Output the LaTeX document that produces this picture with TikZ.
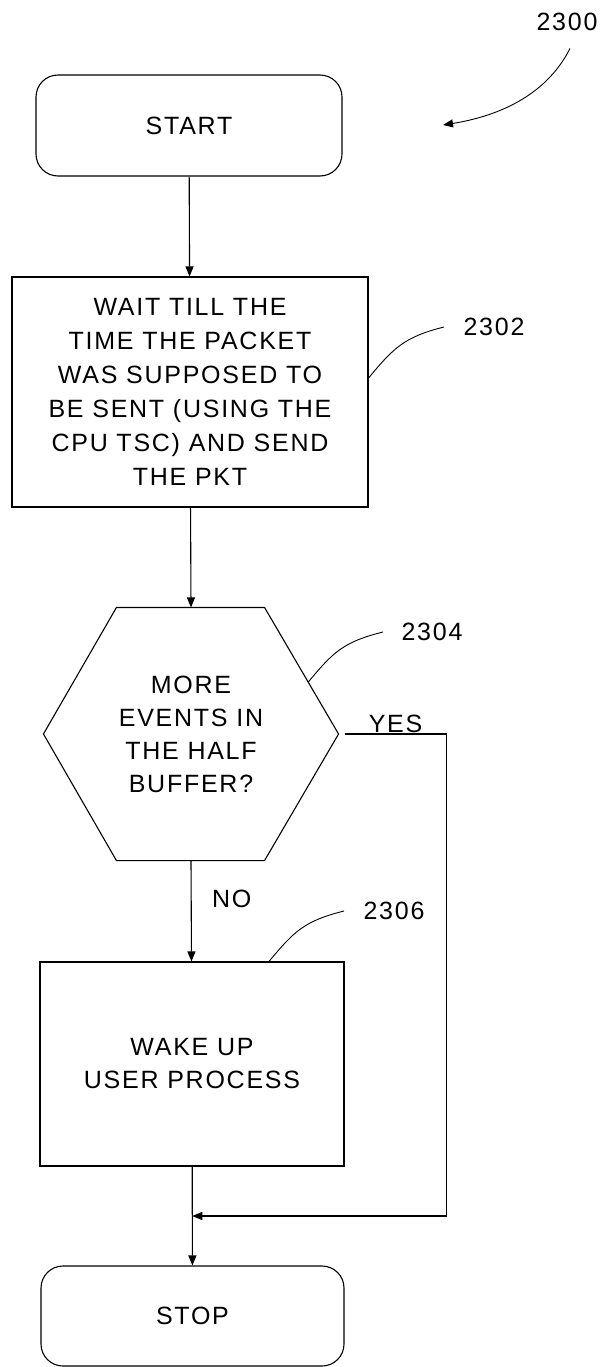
\documentclass[tikz,border=0pt]{standalone}
\usepackage{fontspec}
\setmainfont{Liberation Sans}[LetterSpace=7]
\usetikzlibrary{arrows.meta,positioning,calc}

\begin{document}
\begin{tikzpicture}[x=1pt, y=-1pt, line width=1.1pt, >={Triangle[length=10pt,width=8pt]},
    font=\fontsize{25}{34}\selectfont,
    term/.style={draw, rounded corners=22pt, minimum width=306pt, minimum height=101pt, align=center},
    proc/.style={draw, minimum width=356pt, minimum height=230pt, align=center},
    ref/.style={inner sep=0pt},
    lead/.style={line width=0.9pt}]
  \useasboundingbox (0,0) rectangle (603,1367);
  % ---------------- flow ----------------
  \node[term] (start) at (189,125.5) {START};
  \node[proc] (wait) at (190,392)
       {WAIT TILL THE\\ TIME THE PACKET\\ WAS SUPPOSED TO\\ BE SENT (USING THE\\ CPU TSC) AND SEND\\ THE PKT};
  \node[minimum width=294pt, minimum height=252pt, inner sep=0pt, align=center, font=\fontsize{25}{33}\selectfont] (dec) at (191,734)
       {MORE\\ EVENTS IN\\ THE HALF\\ BUFFER?};
  \coordinate (hnw) at ($(dec.north west)+(73,0)$);
  \coordinate (hne) at ($(dec.north east)+(-74,0)$);
  \coordinate (hse) at ($(dec.south east)+(-74,0)$);
  \coordinate (hsw) at ($(dec.south west)+(73,0)$);
  \draw (dec.west) -- (hnw) -- (hne) -- (dec.east) -- (hse) -- (hsw) -- cycle;
  \node[proc, minimum width=304pt, minimum height=204pt, font=\fontsize{25}{33}\selectfont] (wake) at (192,1064)
       {WAKE UP\\ USER PROCESS};
  \node[term, minimum width=303pt, minimum height=100pt] (stop) at (192.5,1316) {STOP};
  \draw[->] (start) -- (wait);
  \draw[->] (wait) -- (dec.north);
  \draw[->] (dec.south) -- node[pos=0.38, right=17pt] {NO} (wake);
  \draw[->] (wake) -- (stop);
  \coordinate (join) at ($(wake.south)!0.5!(stop.north)$);
  \draw[->] ([xshift=6pt]dec.east) -- node[above, inner sep=1pt] {YES} ++(102,0) |- (join);
  % ---------------- reference numerals ----------------
  \node[ref] (n2300) at (567,22) {2300};
  \coordinate (tip2300) at (443,125);
  \draw[->, lead] ([xshift=3pt,yshift=-17pt]n2300.south) .. controls +(-25,50) and +(50,-8) .. (tip2300);
  \node[ref, anchor=west] (n2302) at (463,327) {2302};
  \draw[lead] ([xshift=-19pt]n2302.west) .. controls +(-40,10) and +(25,-30) .. ([yshift=14pt]wait.east);
  \node[ref, anchor=west] (n2304) at (401,632) {2304};
  \draw[lead] ([xshift=-18pt]n2304.west) .. controls +(-40,10) and +(25,-30) .. ($(hne)!0.59!(dec.east)$);
  \node[ref, anchor=west] (n2306) at (363,911) {2306};
  \draw[lead] ([xshift=-19pt]n2306.west) .. controls +(-40,10) and +(25,-30) .. ([xshift=77pt]wake.north);
\end{tikzpicture}
\end{document}
